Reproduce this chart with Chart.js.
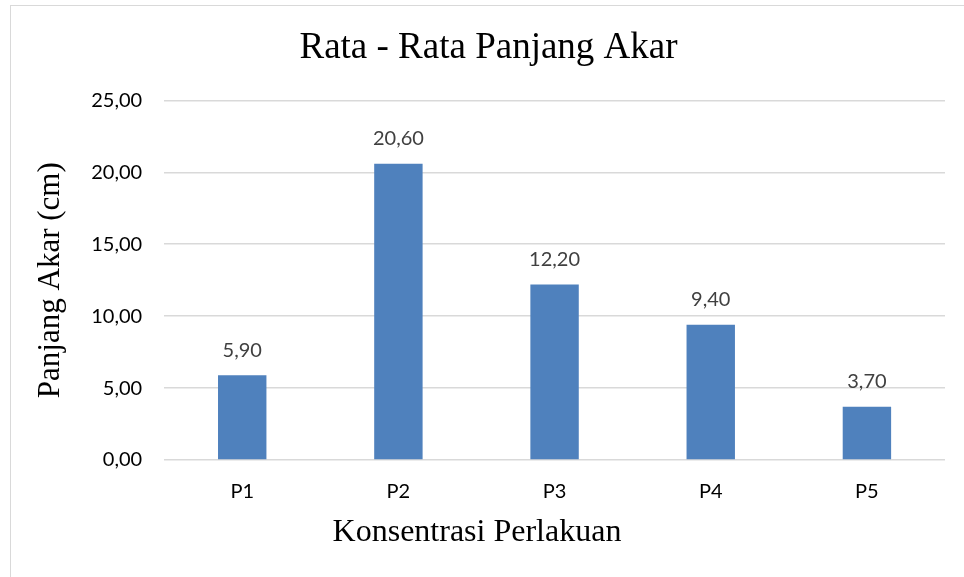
<!DOCTYPE html>
<html>
<head>
<meta charset="utf-8">
<script src="https://cdn.jsdelivr.net/npm/chart.js@4"></script>
<style>
  body { margin: 0; background: #fff; }
  #wrap { position: relative; width: 964px; height: 577px; overflow: hidden; }
  #frame { position: absolute; left: 10px; top: 5px; width: 1000px; height: 620px; border: 1.5px solid #d9d9d9; box-sizing: border-box; }
  canvas { position: absolute; left: 0; top: 0; }
</style>
</head>
<body>
<div id="wrap">
  <div id="frame"></div>
  <canvas id="myChart" width="964" height="577"></canvas>
</div>
<script>
'use strict';
let categories = ['P1', 'P2', 'P3', 'P4', 'P5'];
let panjangAkar = [5.90, 20.60, 12.20, 9.40, 3.70];
let yTicks = [0, 5, 10, 15, 20, 25];
let xTitle = 'Konsentrasi Perlakuan';

function fmt(v) {
    return v.toFixed(2).replace('.', ',');
}

// labels above the bars
let barLabels = {
    id: 'barLabels',
    afterDatasetsDraw(chart) {
        let ctx = chart.ctx;
        let meta = chart.getDatasetMeta(0);
        ctx.save();
        ctx.fillStyle = '#404040';
        ctx.font = '20px Lato';
        ctx.textAlign = 'center';
        ctx.textBaseline = 'middle';
        meta.data.forEach(function (bar, i) {
            ctx.fillText(fmt(panjangAkar[i]), bar.x, bar.y - 25);
        });
        ctx.restore();
    }
};

// x axis title sits a bit left of the plot centre in the original
let xTitlePlugin = {
    id: 'xTitlePlugin',
    afterDraw(chart) {
        let ctx = chart.ctx;
        ctx.save();
        ctx.fillStyle = '#000';
        ctx.font = '32px "Liberation Serif"';
        ctx.textAlign = 'center';
        ctx.textBaseline = 'alphabetic';
        ctx.fillText(xTitle, 477, 541);
        ctx.restore();
    }
};

let ctx = document.getElementById('myChart').getContext('2d');
let myChart = new Chart(ctx, {
    type: 'bar',
    data: {
        labels: categories,
        datasets: [{
            data: panjangAkar,
            backgroundColor: '#4f81bd',
            borderWidth: 0,
            barPercentage: 0.31,
            categoryPercentage: 1
        }]
    },
    options: {
        responsive: false,
        animation: false,
        layout: { padding: { left: 32, right: 19, top: 0, bottom: 0 } },
        plugins: {
            legend: { display: false },
            tooltip: { enabled: false },
            title: {
                display: true,
                text: 'Rata - Rata Panjang Akar',
                color: '#000',
                font: { family: 'Liberation Serif', size: 37, weight: 'normal' },
                padding: { top: 26, bottom: 30 }
            }
        },
        scales: {
            x: {
                afterFit: function (axis) { axis.height = 117; },
                grid: { display: false, drawTicks: false },
                border: { display: false },
                ticks: { color: '#000', font: { family: 'Lato', size: 20 }, padding: 20 }
            },
            y: {
                min: 0,
                max: 25,
                afterBuildTicks: function (axis) {
                    axis.ticks = yTicks.map(function (v) { return { value: v }; });
                },
                grid: { color: '#d9d9d9', lineWidth: 1.5, drawTicks: false },
                border: { display: false },
                ticks: {
                    color: '#000',
                    font: { family: 'Lato', size: 20 },
                    padding: 22,
                    callback: function (v) { return fmt(v); }
                },
                title: {
                    display: true,
                    text: 'Panjang Akar (cm)',
                    color: '#000',
                    font: { family: 'Liberation Serif', size: 31 },
                    padding: { top: 0, bottom: 0 }
                }
            }
        }
    },
    plugins: [barLabels, xTitlePlugin]
});
</script>
</body>
</html>
